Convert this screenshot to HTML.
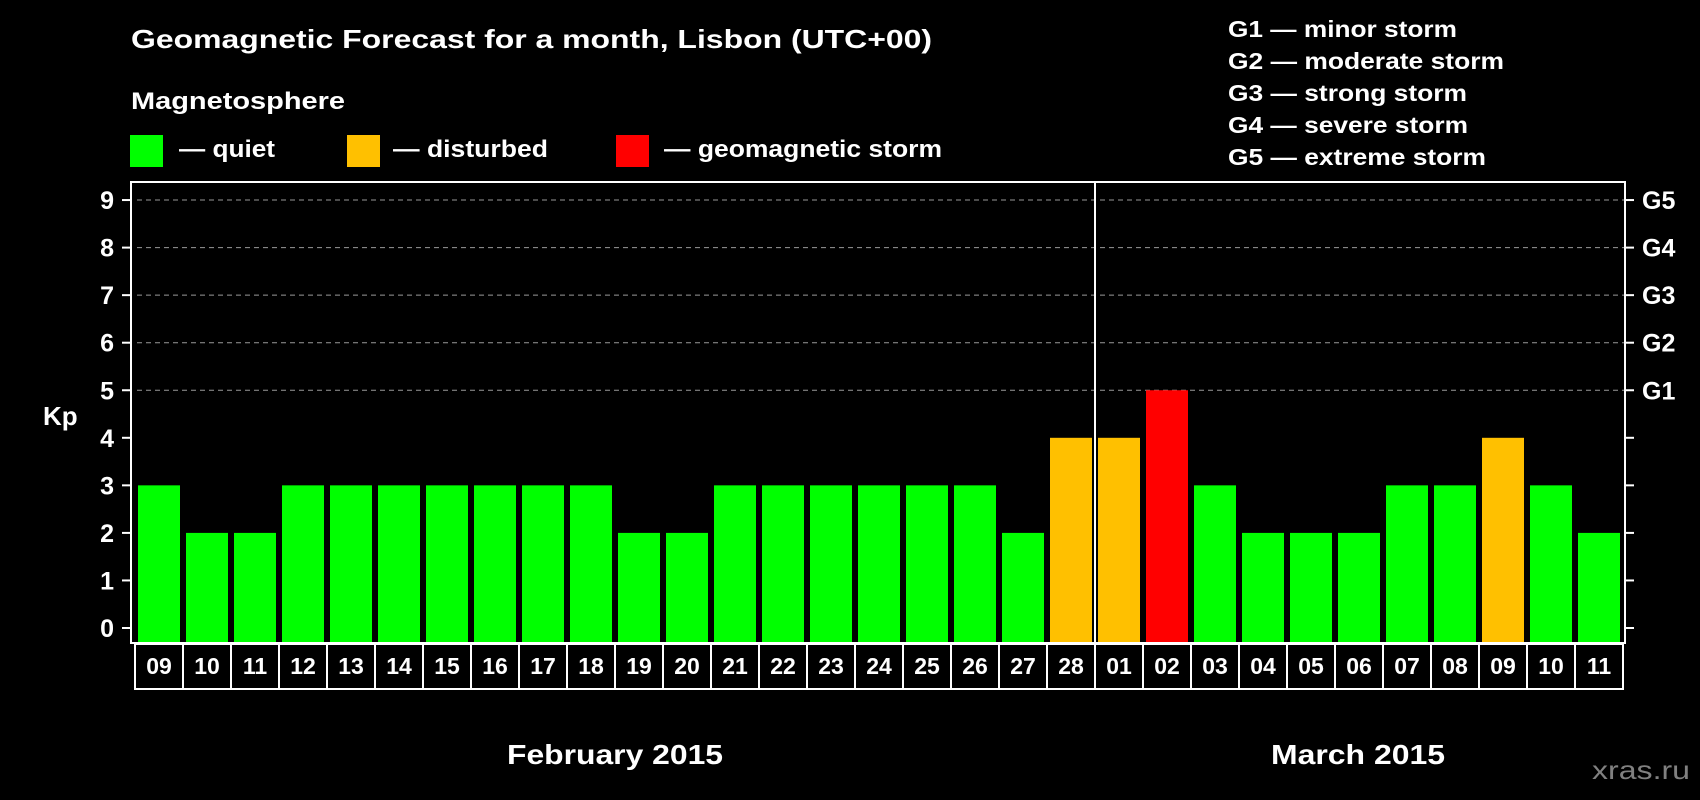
<!DOCTYPE html>
<html><head><meta charset="utf-8"><style>
html,body{margin:0;padding:0;background:#000;}
svg{display:block;font-family:"Liberation Sans",Arial,sans-serif;font-weight:bold;}
</style></head><body>
<svg id="chart" width="1700" height="800" viewBox="0 0 1700 800">
<rect x="0" y="0" width="1700" height="800" fill="#000"/>
<text x="131" y="48" font-size="26" fill="#fff" textLength="801" lengthAdjust="spacingAndGlyphs">Geomagnetic Forecast for a month, Lisbon (UTC+00)</text>
<text x="131" y="109" font-size="24" fill="#fff" textLength="214" lengthAdjust="spacingAndGlyphs">Magnetosphere</text>
<g>
<rect x="130" y="135" width="33" height="32" fill="#00ff00"/>
<text x="179" y="157" font-size="24" fill="#fff" textLength="96" lengthAdjust="spacingAndGlyphs">— quiet</text></g>
<g>
<rect x="347" y="135" width="33" height="32" fill="#ffc000"/>
<text x="393" y="157" font-size="24" fill="#fff" textLength="155" lengthAdjust="spacingAndGlyphs">— disturbed</text></g>
<g>
<rect x="616" y="135" width="33" height="32" fill="#ff0000"/>
<text x="664" y="157" font-size="24" fill="#fff" textLength="278" lengthAdjust="spacingAndGlyphs">— geomagnetic storm</text></g>
<g font-size="23" fill="#fff">
<text x="1228" y="37" textLength="229" lengthAdjust="spacingAndGlyphs">G1 — minor storm</text>
<text x="1228" y="69" textLength="276" lengthAdjust="spacingAndGlyphs">G2 — moderate storm</text>
<text x="1228" y="101" textLength="239" lengthAdjust="spacingAndGlyphs">G3 — strong storm</text>
<text x="1228" y="133" textLength="240" lengthAdjust="spacingAndGlyphs">G4 — severe storm</text>
<text x="1228" y="165" textLength="258" lengthAdjust="spacingAndGlyphs">G5 — extreme storm</text>
</g>
<text x="43" y="425" font-size="26" fill="#fff">Kp</text>
<g id="grid"></g><g id="bars"></g><g id="axes"></g><g id="dates"></g>
<text x="507" y="764" font-size="28" fill="#fff" textLength="216" lengthAdjust="spacingAndGlyphs">February 2015</text>
<text x="1271" y="764" font-size="28" fill="#fff" textLength="174" lengthAdjust="spacingAndGlyphs">March 2015</text>
<text x="1592" y="779" font-size="26" fill="#808080" font-weight="normal" textLength="98" lengthAdjust="spacingAndGlyphs">xras.ru</text>
</svg>
<script>
const days = ["09","10","11","12","13","14","15","16","17","18","19","20","21","22","23","24","25","26","27","28","01","02","03","04","05","06","07","08","09","10","11"];
const kpValues = [3,2,2,3,3,3,3,3,3,3,2,2,3,3,3,3,3,3,2,4,4,5,3,2,2,2,3,3,4,3,2];
const yTicks = [0,1,2,3,4,5,6,7,8,9];
const gLabels = ["G1","G2","G3","G4","G5"];
const gLevels = [5,6,7,8,9];
const monthBreakIndex = 20;

const NS = "http://www.w3.org/2000/svg";
const L = 131, R = 1625, T = 182, B = 643;
const y0 = 628, unit = 47.55;
const step = (R - L - 6) / days.length;
function yScale(v){ return y0 - v*unit; }
function xScale(i){ return 137 + i*step; }
function mk(tag, attrs, parent){ const e = document.createElementNS(NS, tag); for (const k in attrs) e.setAttribute(k, attrs[k]); parent.appendChild(e); return e; }
const grid = document.getElementById("grid"), bars = document.getElementById("bars"), axes = document.getElementById("axes"), dates = document.getElementById("dates");

gLevels.forEach((lv, i) => {
  const ln = mk("line", {x1: 137, x2: R, y1: yScale(lv), y2: yScale(lv), stroke: "#999", "stroke-width": 1, "stroke-dasharray": "5,4"}, grid);
  
  
  const t = mk("text", {x: 1642, y: yScale(lv) + 9, "font-size": 25, fill: "#fff"}, axes);
  t.textContent = gLabels[i];
  
  
});

kpValues.forEach((v, i) => {
  const top = yScale(v);
  const color = v >= 5 ? "#ff0000" : (v >= 4 ? "#ffc000" : "#00ff00");
  const r = mk("rect", {x: xScale(i) + 1, y: top, width: step - 6, height: B - top, fill: color}, bars);
  
  
});

const frame = mk("rect", {x: L, y: T, width: R - L, height: B - T, fill: "none", stroke: "#fff", "stroke-width": 2}, axes);


const bx = 135 + monthBreakIndex*step;
const div = mk("line", {x1: bx, x2: bx, y1: T, y2: B, stroke: "#fff", "stroke-width": 2}, axes);



yTicks.forEach(v => {
  const y = yScale(v);
  const t1 = mk("line", {x1: 122, x2: L, y1: y, y2: y, stroke: "#fff", "stroke-width": 2}, axes);
  
  
  const t2 = mk("line", {x1: R, x2: 1634, y1: y, y2: y, stroke: "#fff", "stroke-width": 2}, axes);
  
  
  const lb = mk("text", {x: 114, y: y + 9, "font-size": 25, fill: "#fff", "text-anchor": "end"}, axes);
  lb.textContent = v;
  
  
});

days.forEach((d, i) => {
  const x = 135 + i*step;
  const box = mk("rect", {x: x, y: 644, width: step, height: 45, fill: "#000", stroke: "#fff", "stroke-width": 2}, dates);
  
  
  const t = mk("text", {x: x + step/2, y: 674, "font-size": 23, fill: "#fff", "text-anchor": "middle"}, dates);
  t.textContent = d;
  
  
});
</script>
</body></html>
